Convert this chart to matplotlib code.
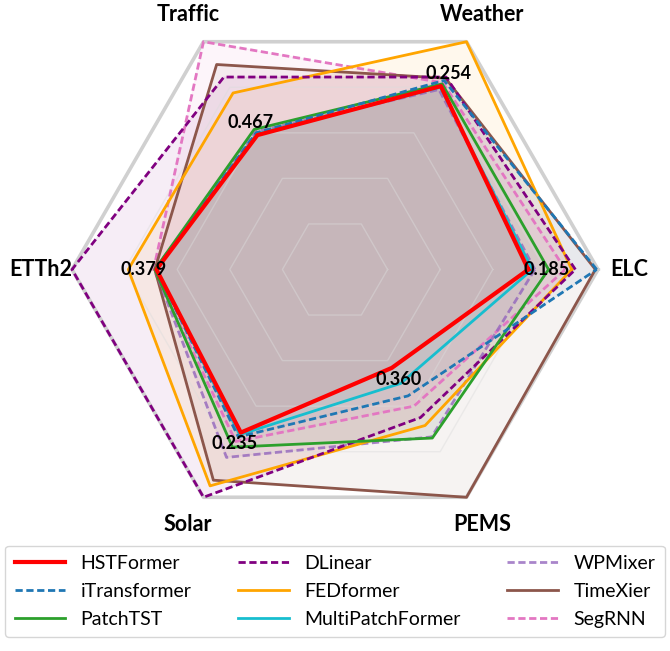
import matplotlib
matplotlib.use('Agg')
import matplotlib.pyplot as plt
import numpy as np

plt.rcParams['font.family'] = ['Lato', 'DejaVu Sans']

# ---- data (normalised radius per axis) ----
categories = ['ELC', 'Weather', 'Traffic', 'ETTh2', 'Solar', 'PEMS']
models = ['HSTFormer', 'iTransformer', 'PatchTST', 'DLinear', 'FEDformer',
          'MultiPatchFormer', 'WPMixer', 'TimeXier', 'SegRNN']

hstformer = [0.735, 0.805, 0.590, 0.679, 0.716, 0.432]
itransformer = [0.995, 0.830, 0.600, 0.680, 0.735, 0.555]
patchtst = [0.812, 0.815, 0.615, 0.685, 0.780, 0.740]
dlinear = [0.914, 0.845, 0.845, 1.000, 1.000, 0.650]
fedformer = [0.900, 1.000, 0.775, 0.786, 0.950, 0.685]
multipatchformer = [0.750, 0.800, 0.595, 0.680, 0.725, 0.500]
wpmixer = [0.760, 0.790, 0.605, 0.685, 0.825, 0.735]
timexier = [0.990, 0.840, 0.900, 0.685, 0.925, 1.000]
segrnn = [0.876, 0.820, 1.000, 0.690, 0.755, 0.600]

hst_labels = ['0.185', '0.254', '0.467', '0.379', '0.235', '0.360']

series = [hstformer, itransformer, patchtst, dlinear, fedformer,
          multipatchformer, wpmixer, timexier, segrnn]

# ---- styles ----
colors = ['#ff0000', '#1f77b4', '#2ca02c', '#800080', '#ffa500',
          '#17becf', '#9467bd', '#8c564b', '#e377c2']
styles = ['-', '--', '-', '--', '-', '-', '--', '-', '--']
widths = [3.0, 2, 2, 2, 2, 2, 2, 2, 2]
line_alpha = [1, 1, 1, 1, 1, 1, 0.8, 1, 1]
label_offsets = [0.07, 0.055, 0.055, 0.05, 0.048, 0.05]

n = len(categories)
theta = np.arange(n) * 2 * np.pi / n
theta_c = np.concatenate([theta, theta[:1]])

fig = plt.figure(figsize=(6.70, 6.51), dpi=100)
ax = fig.add_axes([0.10746, 0.18203, 0.78507, 0.80799], projection='polar')
ax.set_ylim(0, 1)
ax.set_xticks([])
ax.set_yticks([])
ax.grid(False)
ax.spines['polar'].set_visible(False)
ax.patch.set_visible(False)

# hexagonal grid
for lev in [0.2, 0.4, 0.6, 0.8]:
    ax.plot(theta_c, [lev] * (n + 1), color='#dcdcdc', alpha=0.45, lw=1.0,
            zorder=1.5, clip_on=False)
ax.plot(theta_c, [1.0] * (n + 1), color='#d0d0d0', lw=2.6, zorder=1.6, clip_on=False)

handles = []
for i, (name, vals) in enumerate(zip(models, series)):
    v = list(vals) + [vals[0]]
    ax.fill(theta_c, v, color=colors[i], alpha=0.07, zorder=1, clip_on=False)
    ls = styles[i] if styles[i] == '-' else (0, (2.6, 1.3))
    ln, = ax.plot(theta_c, v, color=colors[i], lw=widths[i], linestyle=ls,
                  alpha=line_alpha[i], zorder=10 if i == 0 else 3 + (9 - i) * 0.1,
                  clip_on=False, label=name)
    handles.append(ln)

for t, name in zip(theta, categories):
    ax.text(t, 1.12, name, ha='center', va='center', fontsize=15.5, fontweight='bold')

for t, r, lab, off in zip(theta, hstformer, hst_labels, label_offsets):
    ax.text(t, r + off, lab, ha='center', va='center', fontsize=13,
            fontweight='bold', zorder=20)

fig.legend(handles=handles, loc='lower center', bbox_to_anchor=(0.5, 0.006),
           ncol=3, fontsize=14, frameon=True, handlelength=2.6,
           columnspacing=2.4, edgecolor='#cccccc', fancybox=True,
           labelspacing=0.55, borderpad=0.5)

fig.savefig('out.png', dpi=100)
